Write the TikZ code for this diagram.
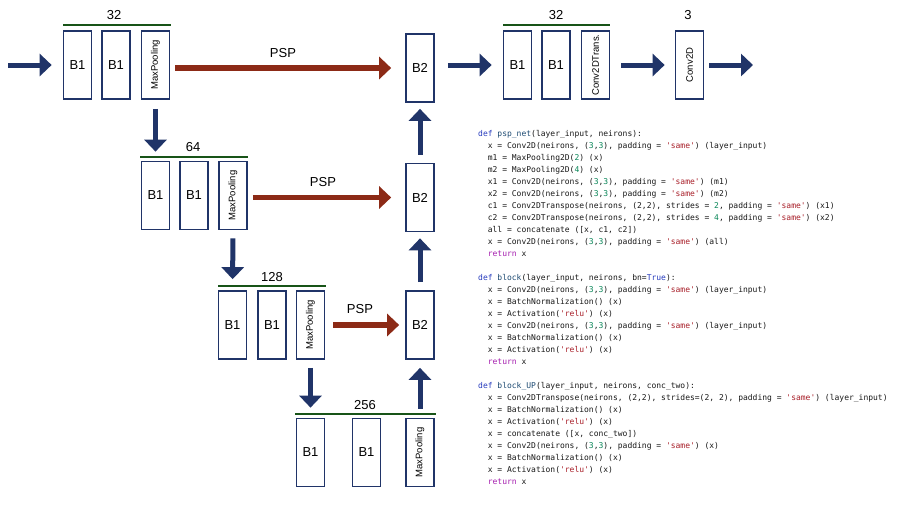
\documentclass[tikz,border=0pt]{standalone}
\usepackage{fontspec}
\setmainfont{Liberation Sans}
\newfontfamily\codefont{DejaVu Sans Mono}
\usepackage{graphicx}
\usetikzlibrary{arrows.meta}
\definecolor{navy}{RGB}{32,52,104}
\definecolor{pspred}{RGB}{140,42,22}
\definecolor{grn}{RGB}{24,84,24}
\definecolor{ckwc}{RGB}{40,60,190}
\definecolor{cfnc}{RGB}{30,75,115}
\definecolor{cnumc}{RGB}{9,134,88}
\definecolor{cstrc}{RGB}{168,30,40}
\definecolor{cretc}{RGB}{165,30,175}
\definecolor{ctxt}{RGB}{25,25,25}
\newcommand\ckw[1]{\textcolor{ckwc}{#1}}
\newcommand\cfn[1]{\textcolor{cfnc}{#1}}
\newcommand\cnum[1]{\textcolor{cnumc}{#1}}
\newcommand\cstr[1]{\textcolor{cstrc}{#1}}
\newcommand\cret[1]{\textcolor{cretc}{#1}}
\newcommand\ind{\phantom{xx}}
\begin{document}
\begin{tikzpicture}[x=1pt,y=-1pt,
  blk/.style={draw=navy,line width=1.7pt,minimum width=28pt,minimum height=68pt,inner sep=0pt,font=\fontsize{13}{13}\selectfont},
  rot/.style={blk,font=\fontsize{9.5}{9.5}\selectfont},
  navarr/.style={draw=navy,line width=5pt,-{Triangle[length=12pt,width=22pt]}},
  psparr/.style={draw=pspred,line width=5.5pt,-{Triangle[length=12pt,width=22pt]}},
  grline/.style={draw=grn,line width=2pt},
  lbl/.style={font=\fontsize{13}{13}\selectfont,inner sep=0pt}]
\useasboundingbox[fill=white] (0,0) rectangle (907,504);
% row 1
\node[blk] (r1a) at (77.5,65) {B1};
\node[blk] (r1b) at (116,65) {B1};
\node[rot] (mp1) at (155.5,65) {\rotatebox{90}{MaxPooling}};
\node[blk] (b2r1) at (420,68) {B2};
\node[blk] (u1) at (517.5,65) {B1};
\node[blk] (u2) at (556,65) {B1};
\node[rot] (ct) at (595.5,65) {\rotatebox{90}{Conv2DTrans.}};
\node[rot] (cv) at (689.5,65) {\rotatebox{90}{Conv2D}};
% row 2
\node[blk] (r2a) at (155.5,195.5) {B1};
\node[blk] (r2b) at (194,195.5) {B1};
\node[rot] (mp2) at (233,195.5) {\rotatebox{90}{MaxPooling}};
\node[blk] (b2r2) at (420,197.5) {B2};
% row 3
\node[blk] (r3a) at (232.5,325) {B1};
\node[blk] (r3b) at (272,325) {B1};
\node[rot] (mp3) at (310.5,325) {\rotatebox{90}{MaxPooling}};
\node[blk] (b2r3) at (420,325) {B2};
% row 4
\node[blk] (r4a) at (310.5,452.5) {B1};
\node[blk] (r4b) at (366.5,452.5) {B1};
\node[rot] (mp4) at (420,452.5) {\rotatebox{90}{MaxPooling}};
% green lines and labels
\draw[grline] (63,25) -- (171,25);
\draw[grline] (503,25) -- (610,25);
\draw[grline] (140,157) -- (248,157);
\draw[grline] (218,286) -- (326,286);
\draw[grline] (295,414) -- (436,414);
\node[lbl] (n32a) at (114,15) {32};
\node[lbl] (n32b) at (556,15) {32};
\node[lbl] (n3) at (688,15) {3};
\node[lbl] (n64) at (193,147) {64};
\node[lbl] (n128) at (272,277) {128};
\node[lbl] (n256) at (365,405) {256};
\node[lbl] (p1) at (283,53) {PSP};
\node[lbl] (p2) at (323,182) {PSP};
\node[lbl] (p3) at (360,309) {PSP};
% connectors
\coordinate (in) at (8,65);
\coordinate (out) at (753,65);
\draw[navarr,shorten >=11pt] (in) -- (r1a.west);
\draw[psparr,shorten <=5pt,shorten >=14pt] (mp1.east |- b2r1.west) -- (b2r1.west);
\draw[psparr,shorten <=5pt,shorten >=14pt] (mp2.east |- b2r2.west) -- (b2r2.west);
\draw[psparr,shorten <=8pt,shorten >=6pt] (mp3.east |- b2r3.west) -- (b2r3.west);
\draw[navarr,shorten <=13pt,shorten >=11pt] (b2r1.east |- u1.west) -- (u1.west);
\draw[navarr,shorten <=11pt,shorten >=10pt] (ct.east) -- (cv.west);
\draw[navarr,shorten <=5pt] (cv.east) -- (out);
\draw[navarr,shorten <=9pt,shorten >=9pt] (mp1.south) -- (r2a.north);
\draw[navarr,shorten <=8pt,shorten >=11pt] (mp2.south) -- (r3a.north);
\draw[navarr,shorten <=8pt,shorten >=10pt] (mp3.south) -- (r4a.north);
\draw[navarr,shorten <=9pt,shorten >=8pt] (mp4.north) -- (b2r3.south);
\draw[navarr,shorten <=8pt,shorten >=6pt] (b2r3.north) -- (b2r2.south);
\draw[navarr,shorten <=8pt,shorten >=6pt] (b2r2.north) -- (b2r1.south);
% code
\node[anchor=north west,inner sep=0pt,align=left,text=ctxt,font=\codefont\fontsize{8}{12}\selectfont] (code) at (478,130) {%
\ckw{def} \cfn{psp\_net}(layer\_input, neirons):\\
\ind x = Conv2D(neirons, (\cnum{3},\cnum{3}), padding = \cstr{'same'}) (layer\_input)\\
\ind m1 = MaxPooling2D(\cnum{2}) (x)\\
\ind m2 = MaxPooling2D(\cnum{4}) (x)\\
\ind x1 = Conv2D(neirons, (\cnum{3},\cnum{3}), padding = \cstr{'same'}) (m1)\\
\ind x2 = Conv2D(neirons, (\cnum{3},\cnum{3}), padding = \cstr{'same'}) (m2)\\
\ind c1 = Conv2DTranspose(neirons, (2,2), strides = \cnum{2}, padding = \cstr{'same'}) (x1)\\
\ind c2 = Conv2DTranspose(neirons, (2,2), strides = \cnum{4}, padding = \cstr{'same'}) (x2)\\
\ind all = concatenate ([x, c1, c2])\\
\ind x = Conv2D(neirons, (\cnum{3},\cnum{3}), padding = \cstr{'same'}) (all)\\
\ind \cret{return} x\\
~\\
\ckw{def} \cfn{block}(layer\_input, neirons, bn=\ckw{True}):\\
\ind x = Conv2D(neirons, (\cnum{3},\cnum{3}), padding = \cstr{'same'}) (layer\_input)\\
\ind x = BatchNormalization() (x)\\
\ind x = Activation(\cstr{'relu'}) (x)\\
\ind x = Conv2D(neirons, (\cnum{3},\cnum{3}), padding = \cstr{'same'}) (layer\_input)\\
\ind x = BatchNormalization() (x)\\
\ind x = Activation(\cstr{'relu'}) (x)\\
\ind \cret{return} x\\
~\\
\ckw{def} \cfn{block\_UP}(layer\_input, neirons, conc\_two):\\
\ind x = Conv2DTranspose(neirons, (2,2), strides=(2, 2), padding = \cstr{'same'}) (layer\_input)\\
\ind x = BatchNormalization() (x)\\
\ind x = Activation(\cstr{'relu'}) (x)\\
\ind x = concatenate ([x, conc\_two])\\
\ind x = Conv2D(neirons, (\cnum{3},\cnum{3}), padding = \cstr{'same'}) (x)\\
\ind x = BatchNormalization() (x)\\
\ind x = Activation(\cstr{'relu'}) (x)\\
\ind \cret{return} x};
\end{tikzpicture}
\end{document}
